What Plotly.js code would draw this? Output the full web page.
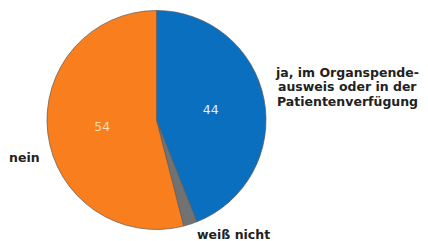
<!DOCTYPE html>
<html>
<head>
<meta charset="utf-8">
<script src="https://cdn.plot.ly/plotly-3.0.1.min.js"></script>
<style>html,body{margin:0;padding:0;background:#fff;}#chart{width:428px;height:241px;}</style>
</head>
<body>
<div id="chart"></div>
<script>
const categories = ["ja, im Organspende-\nausweis oder in der\nPatientenverfügung", "weiß nicht", "nein"];
const values = [44, 2, 54];
const valueLabels = ["44", "", "54"];

const colors = ["#0a6fbf", "#727272", "#f97e1e"];
const textColors = ["#e2ecf7", "#ffffff", "#fcdcb4"];
// label placements (pixels) for the outside category labels (first line centre)
const labelPos = [
  {x: 347, y: 72},
  {x: 233, y: 234},
  {x: 24,  y: 157}
];
const lineGap = 14.7;
const W = 428, H = 241;

const trace = {
  type: "pie",
  values: values,
  labels: categories.map(c => c.replace(/\n/g, " ")),
  text: valueLabels,
  textinfo: "text",
  textposition: "inside",
  insidetextorientation: "horizontal",
  sort: false,
  direction: "clockwise",
  rotation: 0,
  marker: {colors: colors, line: {color: "#5a5a5a", width: 0.7}},
  textfont: {family: "DejaVu Sans", size: 12.5, color: textColors},
  domain: {x: [47/W, 266/W], y: [(H - 229.5)/H, (H - 10.5)/H]},
  hoverinfo: "none",
  showlegend: false
};

const annotations = [];
categories.forEach((c, i) => {
  c.split("\n").forEach((line, j) => {
    annotations.push({
      xref: "paper", yref: "paper",
      x: labelPos[i].x / W, y: 1 - (labelPos[i].y + j * lineGap) / H,
      xanchor: "center", yanchor: "middle",
      text: "<b>" + line + "</b>",
      showarrow: false,
      borderpad: 0,
      font: {family: "DejaVu Sans", size: 12.5, color: "#222222"}
    });
  });
});

Plotly.newPlot("chart", [trace], {
  width: W, height: H,
  margin: {l: 0, r: 0, t: 0, b: 0},
  paper_bgcolor: "#ffffff",
  plot_bgcolor: "#ffffff",
  annotations: annotations,
  hovermode: false
}, {staticPlot: true, displayModeBar: false});
</script>
</body>
</html>
